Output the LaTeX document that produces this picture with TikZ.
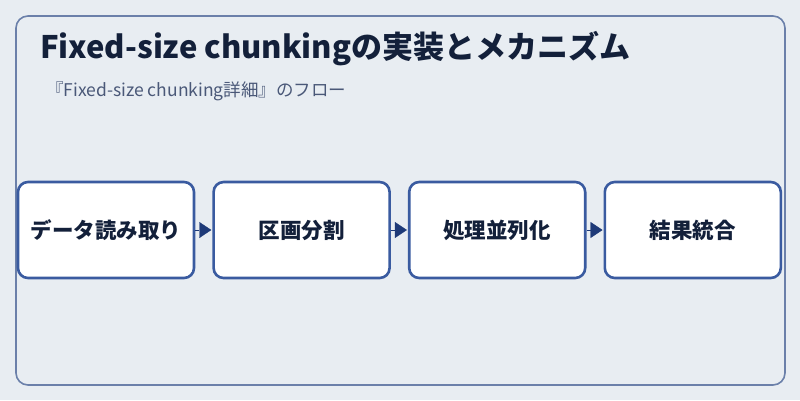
\documentclass[tikz,border=0pt]{standalone}
\usepackage{fontspec}
\setmainfont{Noto Sans CJK JP}
\usetikzlibrary{shapes,arrows.meta,positioning}

\definecolor{bgcol}{HTML}{E8EDF2}
\definecolor{framecol}{HTML}{6B80AA}
\definecolor{boxcol}{HTML}{3A5BA0}
\definecolor{arrowcol}{HTML}{1E3A78}
\definecolor{titlecol}{HTML}{13203A}
\definecolor{subcol}{HTML}{4A5878}

\tikzset{
  stagebox/.style={draw=boxcol, line width=2.6pt, fill=white, rounded corners=10pt,
    minimum width=176pt, minimum height=96pt, inner sep=0pt,
    font=\fontsize{21.5}{24}\selectfont\bfseries, text=titlecol},
  flowarrow/.style={-{Triangle[length=12pt 0 0,width=16pt 0 0]}, arrowcol, line width=0.4pt, shorten >=1pt}
}

\begin{document}
\begin{tikzpicture}[x=1pt,y=-1pt]
% Draw background and frame
\fill[bgcol] (0,0) rectangle (800,400);
\useasboundingbox (0,0) rectangle (800,400);
\draw[framecol, line width=1.6pt, fill=bgcol, rounded corners=12pt] (16,16) rectangle (785,385);

% Draw title and subtitle
\node[anchor=base west, text=titlecol, font=\fontsize{31}{36}\selectfont\bfseries, inner sep=0pt] (title) at (40,58) {Fixed-size chunkingの実装とメカニズム};
\node[anchor=base west, text=subcol, font=\fontsize{17.5}{20}\selectfont, inner sep=0pt] (subtitle) at (46,96) {『Fixed-size chunking詳細』のフロー};

% Draw stages
\node[stagebox] (read) at (106,230) {データ読み取り};
\node[stagebox, right=17pt of read] (split) {区画分割};
\node[stagebox, right=17pt of split] (para) {処理並列化};
\node[stagebox, right=17pt of para] (merge) {結果統合};

% Draw arrows between stages
\draw[flowarrow] (read.east) -- (split.west);
\draw[flowarrow] (split.east) -- (para.west);
\draw[flowarrow] (para.east) -- (merge.west);
\end{tikzpicture}
\end{document}
